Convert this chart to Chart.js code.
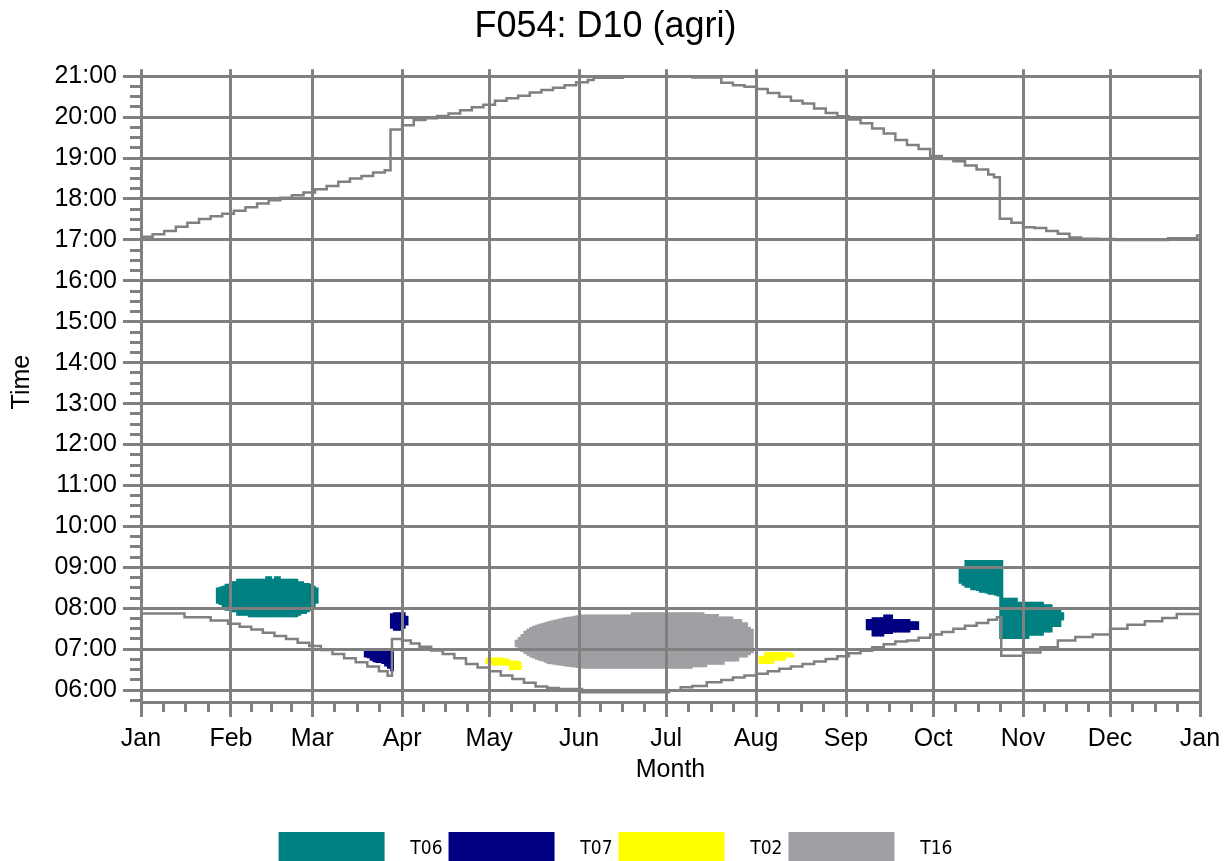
<!DOCTYPE html>
<html lang="en">
<head>
<meta charset="UTF-8">
<title>F054: D10 (agri)</title>
<script src="https://cdn.jsdelivr.net/npm/chart.js@4.4.1/dist/chart.umd.min.js"></script>
<style>
  html, body { margin: 0; padding: 0; background: #fff; overflow: hidden; }
  #wrap { width: 1231px; height: 876px; }
</style>
</head>
<body>
<div id="wrap"><canvas id="chart" width="1231" height="876"></canvas></div>
<script>
// x axis = day of year (0 = 1 Jan), y axis = time of day in hours
const monthStarts = [0, 31, 59, 90, 120, 151, 181, 212, 243, 273, 304, 334, 365];
const monthLabels = ['Jan', 'Feb', 'Mar', 'Apr', 'May', 'Jun', 'Jul', 'Aug', 'Sep', 'Oct', 'Nov', 'Dec', 'Jan'];
const hourTicks = [6, 7, 8, 9, 10, 11, 12, 13, 14, 15, 16, 17, 18, 19, 20, 21];
const hourLabels = ['06:00', '07:00', '08:00', '09:00', '10:00', '11:00', '12:00', '13:00',
                    '14:00', '15:00', '16:00', '17:00', '18:00', '19:00', '20:00', '21:00'];

// sunset / sunrise curves (stepped)
const sunsetDays = [0, 4, 8, 12, 16, 20, 24, 28, 32, 36, 40, 44, 48, 52, 56, 60, 64, 68, 72, 76, 80, 84, 86, 90,
  94, 98, 102, 106, 110, 114, 118, 122, 126, 130, 134, 138, 142, 146, 150, 154, 156, 166, 170, 186, 190, 198,
  200, 204, 208, 212, 216, 220, 224, 228, 232, 236, 240, 244, 248, 252, 256, 260, 264, 268, 272, 276, 280, 284,
  288, 292, 294, 296, 300, 304, 308, 312, 316, 320, 324, 330, 336, 352, 354, 362, 364, 365];
const sunsetTimes = [17.08, 17.14, 17.22, 17.32, 17.42, 17.51, 17.58, 17.64, 17.71, 17.80, 17.89, 17.97, 18.03,
  18.09, 18.16, 18.24, 18.32, 18.42, 18.50, 18.56, 18.65, 18.70, 19.70, 19.80, 19.93, 19.97, 20.03, 20.09, 20.17,
  20.24, 20.30, 20.40, 20.46, 20.52, 20.60, 20.66, 20.72, 20.78, 20.85, 20.91, 20.96, 21.05, 21.06, 21.05, 20.97,
  20.97, 20.84, 20.78, 20.74, 20.69, 20.59, 20.50, 20.40, 20.33, 20.21, 20.10, 20.02, 19.94, 19.85, 19.72, 19.60,
  19.44, 19.32, 19.22, 19.05, 18.98, 18.92, 18.82, 18.72, 18.60, 18.53, 17.52, 17.42, 17.31, 17.29, 17.22, 17.15,
  17.06, 17.03, 17.02, 17.0, 17.0, 17.04, 17.04, 17.11, 17.12];

const sunriseDays = [0, 15, 24, 30, 34, 38, 42, 46, 50, 54, 58, 62, 66, 70, 74, 78, 82, 85, 86.5, 90, 93, 96, 100,
  104, 108, 112, 116, 120, 124, 128, 132, 136, 140, 144, 152, 178, 182, 186, 190, 195, 200, 204, 208, 212, 216,
  220, 224, 228, 232, 236, 240, 244, 248, 252, 256, 260, 264, 268, 272, 276, 280, 284, 288, 292, 295, 296.5, 304,
  310, 316, 322, 328, 334, 340, 346, 352, 357, 365];
const sunriseTimes = [7.87, 7.78, 7.70, 7.62, 7.55, 7.48, 7.40, 7.32, 7.25, 7.16, 7.08, 6.98, 6.88, 6.78, 6.68,
  6.58, 6.46, 6.35, 7.25, 7.21, 7.14, 7.06, 6.97, 6.88, 6.78, 6.64, 6.55, 6.46, 6.36, 6.27, 6.18, 6.09, 6.05,
  6.03, 5.95, 5.95, 6.00, 6.07, 6.10, 6.19, 6.25, 6.31, 6.36, 6.40, 6.46, 6.52, 6.58, 6.64, 6.70, 6.76, 6.83,
  6.90, 6.96, 7.05, 7.12, 7.19, 7.21, 7.28, 7.36, 7.42, 7.50, 7.57, 7.64, 7.72, 7.78, 6.84, 6.92, 7.05, 7.21,
  7.30, 7.36, 7.50, 7.60, 7.68, 7.76, 7.86, 7.86];

// glare areas: first day, then lower / upper time for each following day
const febT06Start = 26;
const febT06Low = [8.11, 8.08, 8.03, 7.94, 7.94, 7.90, 7.90, 7.82, 7.82, 7.82, 7.82, 7.78, 7.78, 7.78, 7.78,
  7.78, 7.78, 7.78, 7.78, 7.78, 7.78, 7.78, 7.78, 7.78, 7.78, 7.78, 7.78, 7.78, 7.82, 7.86, 7.86, 7.90, 7.94,
  8.02, 8.11];
const febT06High = [8.51, 8.53, 8.55, 8.60, 8.60, 8.66, 8.66, 8.72, 8.72, 8.72, 8.72, 8.72, 8.72, 8.72, 8.72,
  8.72, 8.72, 8.78, 8.78, 8.72, 8.78, 8.78, 8.72, 8.72, 8.72, 8.72, 8.72, 8.72, 8.66, 8.66, 8.62, 8.62, 8.60,
  8.55, 8.51];

const marT07Start = 77;
const marT07Low = [6.80, 6.78, 6.72, 6.68, 6.66, 6.66, 6.64, 6.58, 6.52, 6.46];
const marT07High = [6.97, 6.97, 6.97, 6.97, 6.97, 6.97, 6.97, 6.97, 6.96, 6.95];

const aprT07Start = 86;
const aprT07Low = [7.50, 7.45, 7.45, 7.45, 7.50, 7.58];
const aprT07High = [7.88, 7.90, 7.90, 7.90, 7.90, 7.82];

const mayT02Start = 119;
const mayT02Low = [6.64, 6.64, 6.60, 6.60, 6.60, 6.60, 6.60, 6.60, 6.49, 6.49, 6.49, 6.49];
const mayT02High = [6.80, 6.80, 6.80, 6.80, 6.80, 6.80, 6.77, 6.77, 6.72, 6.72, 6.72, 6.70];

const sumT16Start = 129;
const sumT16Low = [7.05, 6.98, 6.93, 6.88, 6.84, 6.80, 6.77, 6.74, 6.72, 6.70, 6.67, 6.64, 6.63, 6.62, 6.61,
  6.60, 6.59, 6.58, 6.57, 6.56, 6.55, 6.54, 6.53,
  6.52, 6.52, 6.52, 6.52, 6.52, 6.52, 6.52, 6.52, 6.52, 6.52, 6.52, 6.52, 6.52, 6.52, 6.52, 6.52, 6.52, 6.52,
  6.52, 6.52, 6.52, 6.52, 6.52, 6.52, 6.52, 6.52, 6.52, 6.52, 6.52, 6.52, 6.52, 6.52, 6.52, 6.52, 6.52, 6.52,
  6.52, 6.52, 6.56, 6.56, 6.56, 6.56, 6.56, 6.62, 6.62, 6.62, 6.62, 6.62, 6.62, 6.70, 6.70, 6.70, 6.70, 6.70,
  6.80, 6.80, 6.80, 6.85, 6.90, 6.98];
const sumT16High = [7.23, 7.30, 7.37, 7.45, 7.50, 7.54, 7.57, 7.60, 7.62, 7.64, 7.66, 7.68, 7.70, 7.72, 7.73,
  7.75, 7.77, 7.78, 7.79, 7.80, 7.82, 7.83,
  7.85, 7.85, 7.85, 7.85, 7.85, 7.85, 7.85, 7.85, 7.85, 7.85, 7.85, 7.85, 7.85, 7.85, 7.85, 7.85, 7.85, 7.85,
  7.90, 7.90, 7.90, 7.90, 7.90, 7.90, 7.90, 7.90, 7.90, 7.90, 7.90, 7.90, 7.90, 7.90, 7.90, 7.90, 7.90, 7.90,
  7.90, 7.90, 7.90, 7.90, 7.90, 7.90, 7.90, 7.86, 7.86, 7.86, 7.86, 7.86, 7.80, 7.80, 7.80, 7.80, 7.80, 7.74,
  7.74, 7.74, 7.66, 7.66, 7.55, 7.50];

const augT02Start = 213;
const augT02Low = [6.64, 6.64, 6.64, 6.64, 6.64, 6.72, 6.72, 6.72, 6.72, 6.80, 6.80, 6.80];
const augT02High = [6.84, 6.84, 6.93, 6.93, 6.93, 6.93, 6.93, 6.93, 6.93, 6.93, 6.93, 6.90];

const sepT07Start = 250;
const sepT07Low = [7.46, 7.46, 7.31, 7.31, 7.31, 7.31, 7.37, 7.37, 7.37, 7.41, 7.41, 7.41, 7.41, 7.41, 7.41,
  7.47, 7.47, 7.47];
const sepT07High = [7.74, 7.74, 7.78, 7.78, 7.78, 7.78, 7.85, 7.85, 7.85, 7.74, 7.74, 7.74, 7.74, 7.74, 7.74,
  7.68, 7.68, 7.68];

const octT06Start = 282;
const octT06Low = [8.60, 8.55, 8.50, 8.50, 8.44, 8.44, 8.42, 8.38, 8.38, 8.36, 8.33, 8.33, 8.31, 8.29, 7.25,
  7.25, 7.25, 7.25, 7.25, 7.25, 7.25, 7.25, 7.25, 7.25, 7.33, 7.33, 7.33, 7.33, 7.33, 7.41, 7.41, 7.41, 7.54,
  7.54, 7.54, 7.70];
const octT06High = [9.00, 9.00, 9.18, 9.18, 9.18, 9.18, 9.18, 9.18, 9.18, 9.18, 9.18, 9.18, 9.18, 9.18, 9.18,
  8.26, 8.26, 8.26, 8.26, 8.26, 8.16, 8.16, 8.16, 8.16, 8.16, 8.16, 8.16, 8.16, 8.16, 8.10, 8.10, 8.10, 7.98,
  7.98, 7.98, 7.90];

const GRID = '#808080';
const TEAL = '#008080', NAVY = '#000080', YELLOW = '#ffff00', SILVER = '#a0a0a4';

function columns(start, lows, highs) {
  return highs.map((h, i) => ({ x: start + i + 0.5, y: [lows[i], h] }));
}
function points(days, times) {
  return days.map((d, i) => ({ x: d, y: times[i] }));
}
function blob(label, color, data, inLegend) {
  return {
    type: 'bar', label: label, data: data, inLegend: inLegend, order: 2,
    backgroundColor: color, borderColor: color, borderWidth: 0,
    grouped: false, barPercentage: 1.4, categoryPercentage: 1
  };
}
function sunLine(data) {
  return {
    type: 'line', label: '', data: data, order: 1, inLegend: false,
    borderColor: GRID, borderWidth: 2.5, pointRadius: 0, fill: false, stepped: true
  };
}

// quarter-month minor ticks and 15 minute minor ticks
const quarterTicks = [];
for (let m = 0; m < 12; m++) {
  const len = monthStarts[m + 1] - monthStarts[m];
  for (let k = 1; k < 4; k++) quarterTicks.push(monthStarts[m] + len * k / 4);
}
const quarterHourTicks = [];
for (let q = 23; q <= 84; q++) quarterHourTicks.push(q / 4);

Chart.defaults.font.family = "'Liberation Sans', Arial, sans-serif";
Chart.defaults.color = '#000';

const ctx = document.getElementById('chart').getContext('2d');
new Chart(ctx, {
  type: 'bar',
  data: {
    datasets: [
      blob('   T06', TEAL, columns(febT06Start, febT06Low, febT06High), true),
      blob('   T07', NAVY, columns(marT07Start, marT07Low, marT07High), true),
      blob('   T02', YELLOW, columns(mayT02Start, mayT02Low, mayT02High), true),
      blob('   T16', SILVER, columns(sumT16Start, sumT16Low, sumT16High), true),
      blob('   T07', NAVY, columns(aprT07Start, aprT07Low, aprT07High), false),
      blob('   T07', NAVY, columns(sepT07Start, sepT07Low, sepT07High), false),
      blob('   T02', YELLOW, columns(augT02Start, augT02Low, augT02High), false),
      blob('   T06', TEAL, columns(octT06Start, octT06Low, octT06High), false),
      sunLine(points(sunsetDays, sunsetTimes)),
      sunLine(points(sunriseDays, sunriseTimes))
    ]
  },
  options: {
    responsive: false,
    devicePixelRatio: 1,
    animation: false,
    events: [],
    layout: { padding: 0 },
    scales: {
      x: {
        type: 'linear', position: 'bottom', weight: 1, min: 0, max: 365, offset: false,
        afterBuildTicks: s => { s.ticks = monthStarts.map(v => ({ value: v })); },
        afterFit: s => { s.height = 124; },
        ticks: { autoSkip: false, maxRotation: 0, padding: 7, font: { size: 25 },
                 callback: (v, i) => monthLabels[i] },
        grid: { color: GRID, lineWidth: 3, tickLength: 15, offset: false, z: 1 },
        border: { display: true, color: GRID, width: 3, z: 1 },
        title: { display: true, text: 'Month', font: { size: 25 }, padding: { top: 0, bottom: 41 } }
      },
      xMinor: {
        type: 'linear', position: 'bottom', weight: 0, min: 0, max: 365, offset: false,
        afterBuildTicks: s => { s.ticks = quarterTicks.map(v => ({ value: v })); },
        afterFit: s => { s.height = 0; },
        ticks: { display: false },
        grid: { color: GRID, lineWidth: 3, tickLength: 10, drawOnChartArea: false, offset: false },
        border: { display: false }
      },
      xTop: {
        type: 'linear', position: 'top', min: 0, max: 365, offset: false,
        afterBuildTicks: s => { s.ticks = monthStarts.map(v => ({ value: v })); },
        afterFit: s => { s.height = 0; },
        ticks: { display: false },
        grid: { color: GRID, lineWidth: 3, tickLength: 7, drawOnChartArea: false, offset: false },
        border: { display: false }
      },
      y: {
        type: 'linear', position: 'left', weight: 1, min: 5.71, max: 21,
        afterBuildTicks: s => { s.ticks = hourTicks.map(v => ({ value: v })); },
        afterFit: s => { s.width = 141; },
        ticks: { autoSkip: false, padding: 6, font: { size: 25 },
                 callback: (v, i) => hourLabels[i] },
        grid: { color: GRID, lineWidth: 3, tickLength: 18, z: 1 },
        border: { display: true, color: GRID, width: 3, z: 1 },
        title: { display: true, text: '  Time', font: { size: 25 }, padding: { top: 7, bottom: 0 } }
      },
      yMinor: {
        type: 'linear', position: 'left', weight: 0, min: 5.71, max: 21,
        afterBuildTicks: s => { s.ticks = quarterHourTicks.map(v => ({ value: v })); },
        afterFit: s => { s.width = 0; },
        ticks: { display: false },
        grid: { color: GRID, lineWidth: 3, tickLength: 11, drawOnChartArea: false },
        border: { display: false }
      },
      yRight: {
        type: 'linear', position: 'right', min: 0, max: 1,
        afterFit: s => { s.width = 31; },
        ticks: { display: false },
        grid: { display: false },
        border: { display: false }
      }
    },
    plugins: {
      title: {
        display: true, text: 'F054: D10 (agri)  ', color: '#000',
        font: { size: 36, weight: 'normal' }, padding: { top: 5, bottom: 28 }
      },
      legend: {
        position: 'bottom',
        labels: {
          boxWidth: 106, boxHeight: 34, padding: 6, color: '#000',
          font: { family: "'DejaVu Sans Condensed', 'Liberation Sans Narrow', sans-serif", size: 19 },
          filter: (item, data) => data.datasets[item.datasetIndex].inLegend
        }
      },
      tooltip: { enabled: false }
    }
  }
});
</script>
</body>
</html>
